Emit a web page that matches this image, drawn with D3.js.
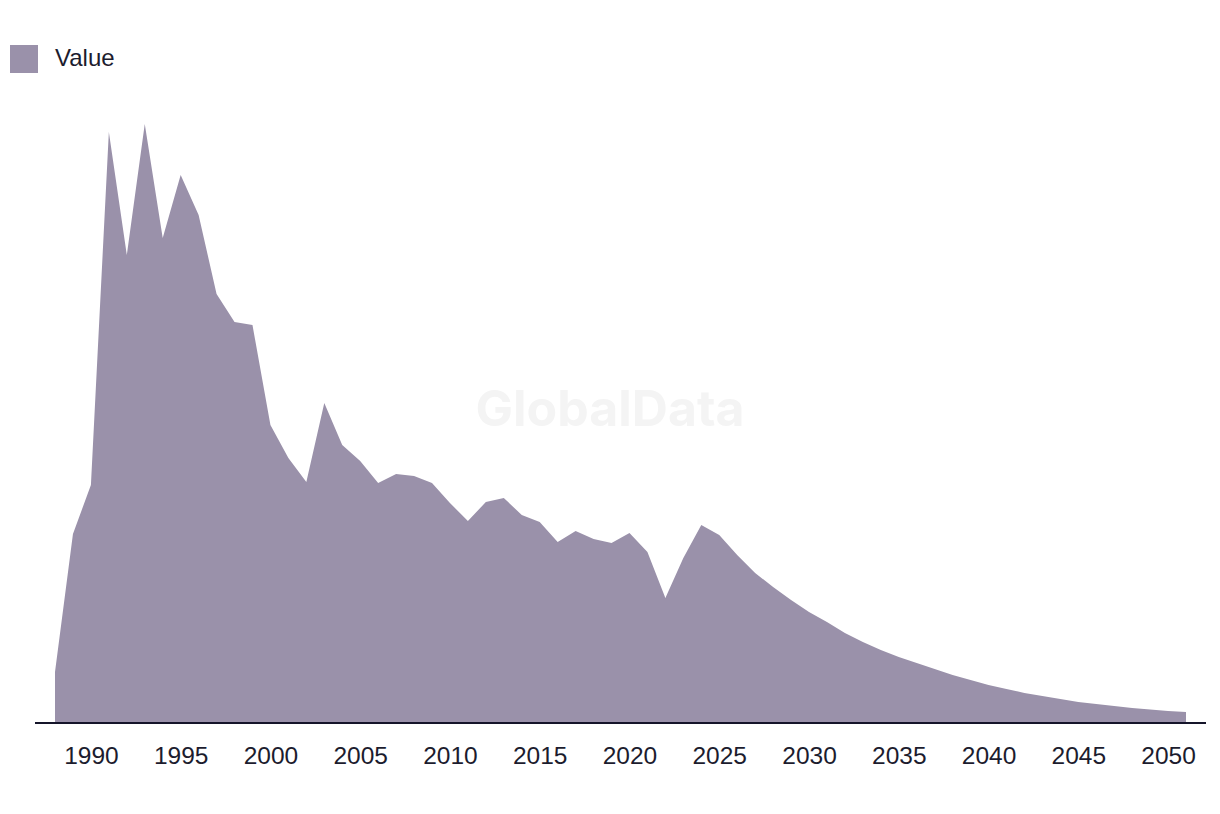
<!DOCTYPE html>
<html>
<head>
<meta charset="utf-8">
<script src="https://cdn.jsdelivr.net/npm/d3@7/dist/d3.min.js"></script>
<style>
  html, body { margin: 0; padding: 0; background: #fff; }
  svg { display: block; font-family: "Liberation Sans", Arial, sans-serif; }
</style>
</head>
<body>
<svg id="chart" width="1220" height="814"></svg>
<script>
const years = d3.range(1988, 2052);
const values = [
  51, 189, 238, 591, 468, 599, 485, 548, 508, 429,
  401, 398, 298, 265, 241, 320, 278, 262, 240, 249,
  247, 240, 220, 202, 221, 225, 208, 201, 181, 192,
  184, 180, 190, 171, 125, 165, 198, 188, 168, 150,
  136, 123, 111, 101, 90, 81, 73, 66, 60, 54,
  48, 43, 38, 34, 30, 27, 24, 21, 19, 17,
  15, 13.5, 12, 11
];
const tickYears = [1990, 1995, 2000, 2005, 2010, 2015, 2020, 2025, 2030, 2035, 2040, 2045, 2050];
const seriesName = "Value";
const color = "#9a91aa";

const data = years.map((y, i) => ({ year: y, value: values[i] }));
const svg = d3.select("#chart");

const x = d3.scaleLinear().domain([1988, 2051]).range([55, 1186]);
const y = d3.scaleLinear().domain([0, 600]).range([723, 123]);

// watermark
svg.append("text")
  .attr("x", 610).attr("y", 426)
  .attr("text-anchor", "middle")
  .attr("font-family", "Inter, Roboto, sans-serif")
  .attr("font-size", 50).attr("font-weight", 700)
  .attr("fill", "#f4f4f4")
  .text("GlobalData");

const area = d3.area()
  .x(d => x(d.year))
  .y0(y(0))
  .y1(d => y(d.value));

svg.append("path")
  .datum(data)
  .attr("d", area)
  .attr("fill", color);

// x axis
const axis = d3.axisBottom(x)
  .tickValues(tickYears)
  .tickFormat(d3.format("d"))
  .tickSize(0)
  .tickPadding(24);

const g = svg.append("g")
  .attr("transform", `translate(0,${y(0)})`)
  .call(axis);
g.select(".domain").remove();
g.append("line")
  .attr("x1", 35).attr("x2", 1206)
  .attr("y1", 0).attr("y2", 0)
  .attr("stroke", "#15152a").attr("stroke-width", 2);
g.selectAll(".tick text")
  .attr("font-size", 24.5)
  .attr("fill", "#1c1c2e")
  .attr("font-family", "Liberation Sans, Arial, sans-serif");

// legend
const lg = svg.append("g");
lg.append("rect").attr("x", 10).attr("y", 45).attr("width", 28).attr("height", 28).attr("fill", color);
lg.append("text").attr("x", 55).attr("y", 66).attr("font-size", 24).attr("fill", "#1c1c2e").text(seriesName);
</script>
</body>
</html>
